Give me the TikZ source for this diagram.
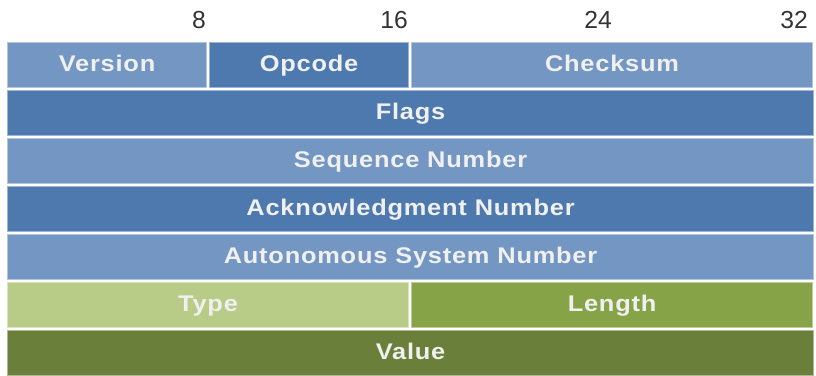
\documentclass[tikz,border=0pt]{standalone}
\usepackage{fontspec}
\setmainfont{Liberation Sans}
\usepackage{tikz}
\usetikzlibrary{positioning}

\definecolor{paleblue}{HTML}{7396C3}
\definecolor{deepblue}{HTML}{4D79AE}
\definecolor{palegreen}{HTML}{B8CC88}
\definecolor{midgreen}{HTML}{86A447}
\definecolor{deepgreen}{HTML}{6A7F3A}

\begin{document}
\begin{tikzpicture}[x=0.75pt,y=-0.75pt,
	field/.style={draw=#1!55!white, line width=0.8pt, fill=#1, text=white!94!black, anchor=north west,
		minimum height=33.75pt, inner sep=0pt, text height=13pt, text depth=3.3pt,
		font=\bfseries\fontsize{17}{19}\selectfont\addfontfeature{FakeStretch=1.12,LetterSpace=3.5}},
	byte/.style={minimum width=149.25pt},
	half/.style={minimum width=300.75pt},
	word/.style={minimum width=604.5pt},
	bitno/.style={anchor=base east, inner sep=0pt, text=black!80, font=\fontsize{18.5}{20}\selectfont}]
	\useasboundingbox (0,0) rectangle (816,375);

	% bit positions
	\node[bitno] (b8) at (206,28) {8};
	\node[bitno] (b16) at (408,28) {16};
	\node[bitno] (b24) at (612,28) {24};
	\node[bitno] (b32) at (808,28) {32};

	% header words
	\node[field=paleblue, byte] (ver) at (7,42) {Version};
	\node[field=deepblue, byte] (opc) at (209,42) {Opcode};
	\node[field=paleblue, half] (chk) at (411,42) {Checksum};
	\node[field=deepblue, word] (flg) at (7,90) {Flags};
	\node[field=paleblue, word] (seq) at (7,138) {Sequence Number};
	\node[field=deepblue, word] (ack) at (7,186) {Acknowledgment Number};
	\node[field=paleblue, word] (asn) at (7,234) {Autonomous System Number};

	% TLV part
	\node[field=palegreen, half] (typ) at (7,282) {Type};
	\node[field=midgreen, half] (len) at (411,282) {Length};
	\node[field=deepgreen, word] (val) at (7,330) {Value};
\end{tikzpicture}
\end{document}
